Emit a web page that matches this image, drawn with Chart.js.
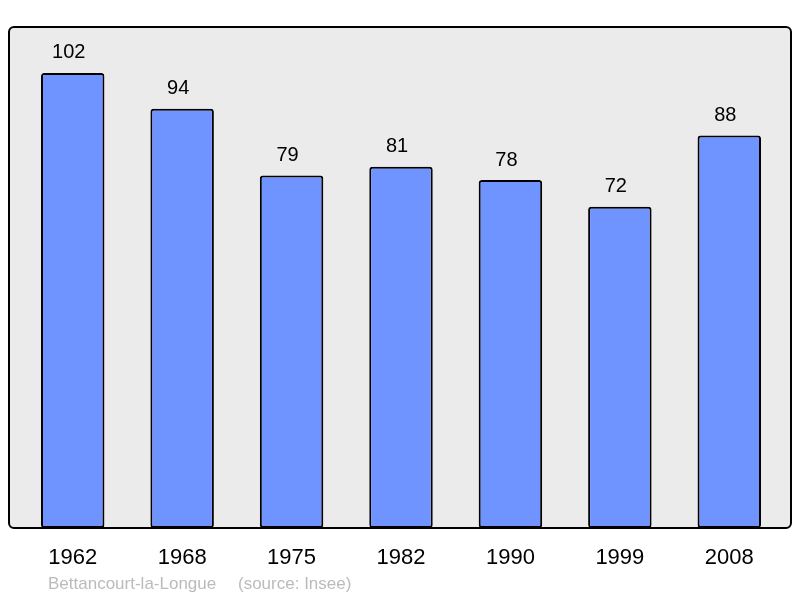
<!DOCTYPE html>
<html><head><meta charset="utf-8">
<script src="https://cdn.jsdelivr.net/npm/chart.js@4"></script>
<style>html,body{margin:0;padding:0;background:#fff}#wrap{width:800px;height:598px;position:relative}</style>
</head><body><div id="wrap"><canvas id="c" width="800" height="598"></canvas></div>
<script>
const years = ['1962','1968','1975','1982','1990','1999','2008'];
const population = [102, 94, 79, 81, 78, 72, 88];
const commune = 'Bettancourt-la-Longue';
const sourceNote = '(source: Insee)';

function roundRect(ctx, x, y, w, h, r) {
  ctx.beginPath();
  ctx.moveTo(x + r, y);
  ctx.lineTo(x + w - r, y);
  ctx.arcTo(x + w, y, x + w, y + r, r);
  ctx.lineTo(x + w, y + h - r);
  ctx.arcTo(x + w, y + h, x + w - r, y + h, r);
  ctx.lineTo(x + r, y + h);
  ctx.arcTo(x, y + h, x, y + h - r, r);
  ctx.lineTo(x, y + r);
  ctx.arcTo(x, y, x + r, y, r);
  ctx.closePath();
}

const frame = {
  id: 'frame',
  beforeDatasetsDraw(chart) {
    const {ctx, chartArea: a} = chart;
    ctx.save();
    roundRect(ctx, 9, a.top, 782, a.bottom - a.top, 5);
    ctx.fillStyle = '#ebebeb';
    ctx.fill();
    ctx.restore();
  },
  afterDatasetsDraw(chart) {
    const {ctx, chartArea: a, scales} = chart;
    ctx.save();
    roundRect(ctx, 9, a.top, 782, a.bottom - a.top, 5);
    ctx.lineWidth = 2;
    ctx.strokeStyle = '#000';
    ctx.stroke();
    // value labels
    ctx.fillStyle = '#000';
    ctx.font = '20px "Liberation Sans", Arial, sans-serif';
    ctx.textAlign = 'center';
    ctx.textBaseline = 'middle';
    population.forEach((v, i) => {
      const x = scales.x.getPixelForValue(i);
      const y = scales.y.getPixelForValue(v);
      ctx.fillText(String(v), x - 4, y - 20);
    });
    // category labels
    ctx.font = '22px "Liberation Sans", Arial, sans-serif';
    years.forEach((yr, i) => {
      const x = scales.x.getPixelForValue(i);
      ctx.fillText(yr, x, a.bottom + 29.5);
    });
    // source
    ctx.font = '17px "Liberation Sans", Arial, sans-serif';
    ctx.fillStyle = '#bbbbbb';
    ctx.textAlign = 'left';
    ctx.fillText(commune, 48, a.bottom + 56.5);
    ctx.fillText(sourceNote, 238, a.bottom + 56.5);
    ctx.restore();
  }
};

new Chart(document.getElementById('c'), {
  type: 'bar',
  data: {
    labels: years,
    datasets: [{
      data: population,
      backgroundColor: '#7094ff',
      borderColor: '#000',
      borderWidth: 2,
      borderRadius: 3,
      borderSkipped: false,
      barPercentage: 0.58,
      categoryPercentage: 1
    }]
  },
  options: {
    responsive: false,
    animation: false,
    layout: {padding: {left: 18, right: 16, top: 27, bottom: 70}},
    plugins: {legend: {display: false}, tooltip: {enabled: false}},
    scales: {
      x: {display: false},
      y: {display: false, min: 0, max: 112.3}
    }
  },
  plugins: [frame]
});
</script></body></html>
